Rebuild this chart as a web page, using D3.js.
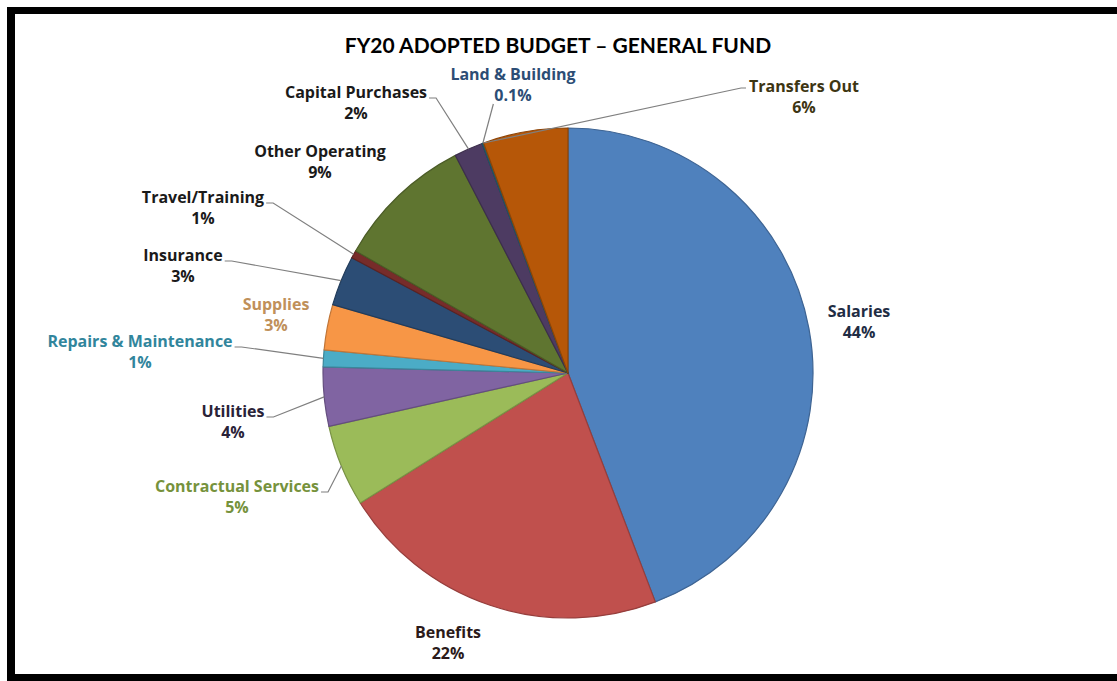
<!DOCTYPE html>
<html>
<head>
    <meta charset="utf-8" />
    <title>FY20 Adopted Budget - General Fund</title>
    <style>
        html, body { margin: 0; padding: 0; overflow: hidden; background: #ffffff; }
        svg { display: block; }
        .label { font-family: "Open Sans", Lato, sans-serif; font-weight: bold; font-size: 16px; }
        .title { font-family: Lato, "Open Sans", sans-serif; font-weight: bold; font-size: 21px; fill: #000000; }
        .leader { fill: none; stroke: #7f7f7f; stroke-width: 1.2px; }
    </style>
    <script src="https://cdn.jsdelivr.net/npm/d3@7"></script>
</head>
<body>
    <svg width="1117" height="681"></svg>

    <script>
        // budget categories, clockwise from 12 o'clock
        var categories = ['Salaries', 'Benefits', 'Contractual Services', 'Utilities',
            'Repairs & Maintenance', 'Supplies', 'Insurance', 'Travel/Training',
            'Other Operating', 'Capital Purchases', 'Land & Building', 'Transfers Out'];
        // share of general fund, percent
        var shares = [44.2, 21.9, 5.4, 3.9, 1.1, 3.0, 3.3, 0.5, 9.1, 1.9, 0.1, 5.6];

        var sliceColors = ['#4f81bd', '#c0504d', '#9bbb59', '#8064a2', '#4bacc6', '#f79646',
            '#2c4d75', '#772c2a', '#5f7530', '#4d3b62', '#276a7c', '#b65708'];
        var labelColors = ['#1f2d44', '#2b1a1a', '#76923c', '#2a2338', '#31859c', '#c0905a',
            '#1a1a1a', '#1a1a1a', '#1a1a1a', '#1a1a1a', '#2c4d75', '#3d3512'];

        // label placement (Excel "best fit" result): centre x, first baseline y,
        // leader: none | right | left | below ; anchor: where along the slice arc the leader ends
        var labelLayout = [
            { x: 859, y: 317, leader: 'none' },
            { x: 448, y: 638, leader: 'none' },
            { x: 237, y: 492, leader: 'right', anchor: 0.5 },
            { x: 233, y: 417, leader: 'right', anchor: 0.5 },
            { x: 140, y: 347, leader: 'right', anchor: 0.5 },
            { x: 276, y: 310, leader: 'none' },
            { x: 183, y: 261, leader: 'right', anchor: 0.5 },
            { x: 203, y: 203, leader: 'right', anchor: 0.5 },
            { x: 320, y: 157, leader: 'none' },
            { x: 356, y: 98, leader: 'right', anchor: 0.5 },
            { x: 513, y: 80, leader: 'below', anchor: 0.5 },
            { x: 804, y: 92, leader: 'left', anchor: 0 }
        ];

        var svg = d3.select('svg'),
            cx = 568, cy = 373, radius = 245,
            lineGap = 21;

        // frame
        svg.append('rect').attr('x', 7).attr('y', 7).attr('width', 1110).attr('height', 7).attr('fill', '#000');
        svg.append('rect').attr('x', 7).attr('y', 7).attr('width', 8).attr('height', 674).attr('fill', '#000');
        svg.append('rect').attr('x', 7).attr('y', 674).attr('width', 1110).attr('height', 7).attr('fill', '#000');

        svg.append('text')
            .attr('class', 'title')
            .attr('x', 558)
            .attr('y', 53)
            .attr('text-anchor', 'middle')
            .text('FY20 ADOPTED BUDGET \u2013 GENERAL FUND');

        var data = categories.map(function(c, i) { return { name: c, value: shares[i], i: i }; });

        var pie = d3.pie().sort(null).value(function(d) { return d.value; });
        var arcs = pie(data);

        var arc = d3.arc().innerRadius(0).outerRadius(radius);

        var g = svg.append('g').attr('transform', 'translate(' + cx + ',' + cy + ')');

        g.selectAll('path.slice')
            .data(arcs)
            .enter().append('path')
                .attr('class', 'slice')
                .attr('d', arc)
                .attr('fill', function(d) { return sliceColors[d.data.i]; })
                .attr('stroke', function(d) { return d3.color(sliceColors[d.data.i]).darker(0.7); })
                .attr('stroke-width', 1.2)
                .attr('stroke-linejoin', 'round');

        function pct(v) {
            return v >= 0.5 ? Math.round(v) + '%' : v.toFixed(1) + '%';
        }

        function edgePoint(d, t) {
            var a = d.startAngle + (d.endAngle - d.startAngle) * t;
            return [cx + radius * Math.sin(a), cy - radius * Math.cos(a)];
        }

        var labels = svg.append('g');

        arcs.forEach(function(d) {
            var i = d.data.i, L = labelLayout[i];
            var t = labels.append('text')
                .attr('class', 'label')
                .attr('text-anchor', 'middle')
                .attr('fill', labelColors[i]);
            var t1 = t.append('tspan').attr('x', L.x).attr('y', L.y).text(d.data.name);
            var t2 = t.append('tspan').attr('x', L.x).attr('y', L.y + lineGap).text(pct(d.data.value));

            if (L.leader === 'none') return;
            var w1 = t1.node().getComputedTextLength(),
                w2 = t2.node().getComputedTextLength(),
                end = edgePoint(d, L.anchor),
                pts;
            if (L.leader === 'right') {
                var sx = L.x + w1 / 2 + 2;
                pts = [[sx, L.y], [sx + 7, L.y], end];
            } else if (L.leader === 'left') {
                var lx = L.x - w1 / 2 - 3;
                pts = [[lx, L.y - 4], [lx - 5, L.y - 4], end];
            } else {
                pts = [[L.x - w2 / 2 - 1, L.y + lineGap + 3], end];
            }
            labels.append('path')
                .attr('class', 'leader')
                .attr('d', d3.line()(pts));
        });
    </script>
</body>
</html>
